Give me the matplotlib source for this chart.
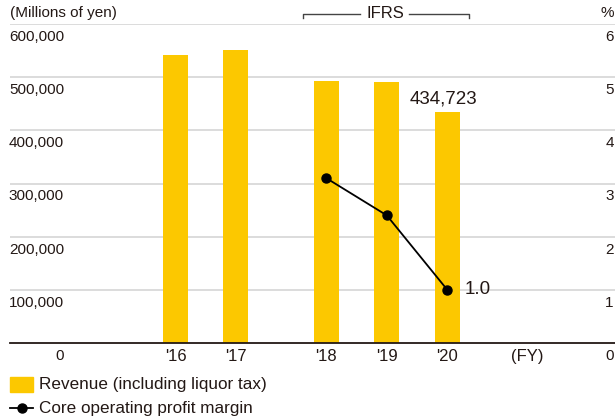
import matplotlib
matplotlib.use('Agg')
import matplotlib.pyplot as plt
import matplotlib.transforms as mtransforms
from matplotlib.lines import Line2D
from matplotlib.patches import Rectangle

# Revenue (millions of yen) and core operating profit margin (%)
years = ["'16", "'17", "'18", "'19", "'20"]
x_pos = [0, 1, 2.5, 3.5, 4.5]
revenue = [541800, 551500, 492900, 491900, 434723]
margin_years = [2.5, 3.5, 4.5]
margin = [3.1, 2.4, 1.0]
left_ticks = [0, 100000, 200000, 300000, 400000, 500000, 600000]
right_ticks = [0, 1, 2, 3, 4, 5, 6]

YELLOW = '#fcc800'
TXT = '#231815'
NUM = 'Liberation Sans'
REG = 'Liberation Sans'

W, H = 615, 420
fig = plt.figure(figsize=(W / 100, H / 100), dpi=100)
ax = fig.add_axes([10 / W, 77.3 / H, 605 / W, 318.4 / H])
ax.set_xlim(-2.74, 7.28)
ax.set_ylim(0, 600000)

for s in ['top', 'right', 'left']:
    ax.spines[s].set_visible(False)
ax.spines['bottom'].set_color(TXT)
ax.spines['bottom'].set_linewidth(1.3)
ax.set_xticks([])
ax.set_yticks(left_ticks[1:])
ax.tick_params(axis='y', length=0, labelleft=False)
ax.yaxis.grid(True, color='#dcdcdc', linewidth=1.4)
ax.set_axisbelow(True)

ax.bar(x_pos, revenue, width=0.41, color=YELLOW, zorder=2)

ax2 = ax.twinx()
ax2.set_ylim(0, 6)
ax2.axis('off')
ax2.plot(margin_years, margin, color='black', linewidth=1.3, marker='o',
         markersize=6.5, zorder=3)

# y tick labels sit just below each gridline
lab_left = mtransforms.offset_copy(
    mtransforms.blended_transform_factory(ax.transAxes, ax.transData),
    fig=fig, x=0, y=-13, units='dots')
for v in left_ticks:
    ax.text(0.0893, v, f'{v:,}', transform=lab_left, ha='right', va='center',
            fontsize=11, family=NUM, color=TXT)
lab_right = mtransforms.offset_copy(
    mtransforms.blended_transform_factory(ax2.transAxes, ax2.transData),
    fig=fig, x=0, y=-13, units='dots')
for v in right_ticks:
    ax2.text(0.998, v, str(v), transform=lab_right, ha='right', va='center',
             fontsize=11, family=NUM, color=TXT)

fig.text(10 / W, 1 - 13 / H, '(Millions of yen)', ha='left', va='center',
         fontsize=11, family=REG, color=TXT)
fig.text(614 / W, 1 - 13 / H, '%', ha='right', va='center',
         fontsize=11, family=NUM, color=TXT)

# x labels
xlab = mtransforms.offset_copy(
    mtransforms.blended_transform_factory(ax.transData, ax.transAxes),
    fig=fig, x=0, y=-14, units='dots')
for xp, lab in zip(x_pos, years):
    ax.text(xp, 0, lab, transform=xlab, ha='center', va='center',
            fontsize=12, family=REG, color=TXT)
ax.text(5.82, 0, '(FY)', transform=xlab, ha='center', va='center',
        fontsize=12, family=REG, color=TXT)

# value labels
ax.annotate(f'{revenue[-1]:,}', (x_pos[-1], revenue[-1]), xytext=(-4, 9),
            textcoords='offset pixels', ha='center', va='baseline',
            fontsize=13.5, family=NUM, color=TXT)
ax2.annotate(f'{margin[-1]:.1f}', (margin_years[-1], margin[-1]), xytext=(17, 0),
             textcoords='offset pixels', ha='left', va='center',
             fontsize=13.5, family=NUM, color=TXT)

# IFRS bracket
br = mtransforms.blended_transform_factory(ax.transData, fig.transFigure)
y_top, y_tick = 1 - 14 / H, 1 - 18 / H
ax.add_line(Line2D([2.11, 2.11, 3.05], [y_tick, y_top, y_top], transform=br,
                   color='#444444', linewidth=1.0, clip_on=False))
ax.add_line(Line2D([3.87, 4.86, 4.86], [y_top, y_top, y_tick], transform=br,
                   color='#444444', linewidth=1.0, clip_on=False))
ax.text(3.47, y_top, 'IFRS', transform=br, ha='center', va='center',
        fontsize=12, family=REG, color=TXT)

# legend
fig.patches.append(Rectangle((10 / W, 1 - 392 / H), 23 / W, 15 / H,
                             transform=fig.transFigure, color=YELLOW))
fig.text(39 / W, 1 - 384 / H, 'Revenue (including liquor tax)', ha='left',
         va='center', fontsize=12.3, family=REG, color=TXT)
fig.add_artist(Line2D([10 / W, 33 / W], [1 - 408 / H, 1 - 408 / H],
                      transform=fig.transFigure, color='black', linewidth=1.3))
fig.add_artist(Line2D([21.5 / W], [1 - 408 / H], transform=fig.transFigure,
                      color='black', marker='o', markersize=6.5))
fig.text(39 / W, 1 - 408 / H, 'Core operating profit margin', ha='left',
         va='center', fontsize=12.3, family=REG, color=TXT)

fig.savefig('out.png', dpi=100)
